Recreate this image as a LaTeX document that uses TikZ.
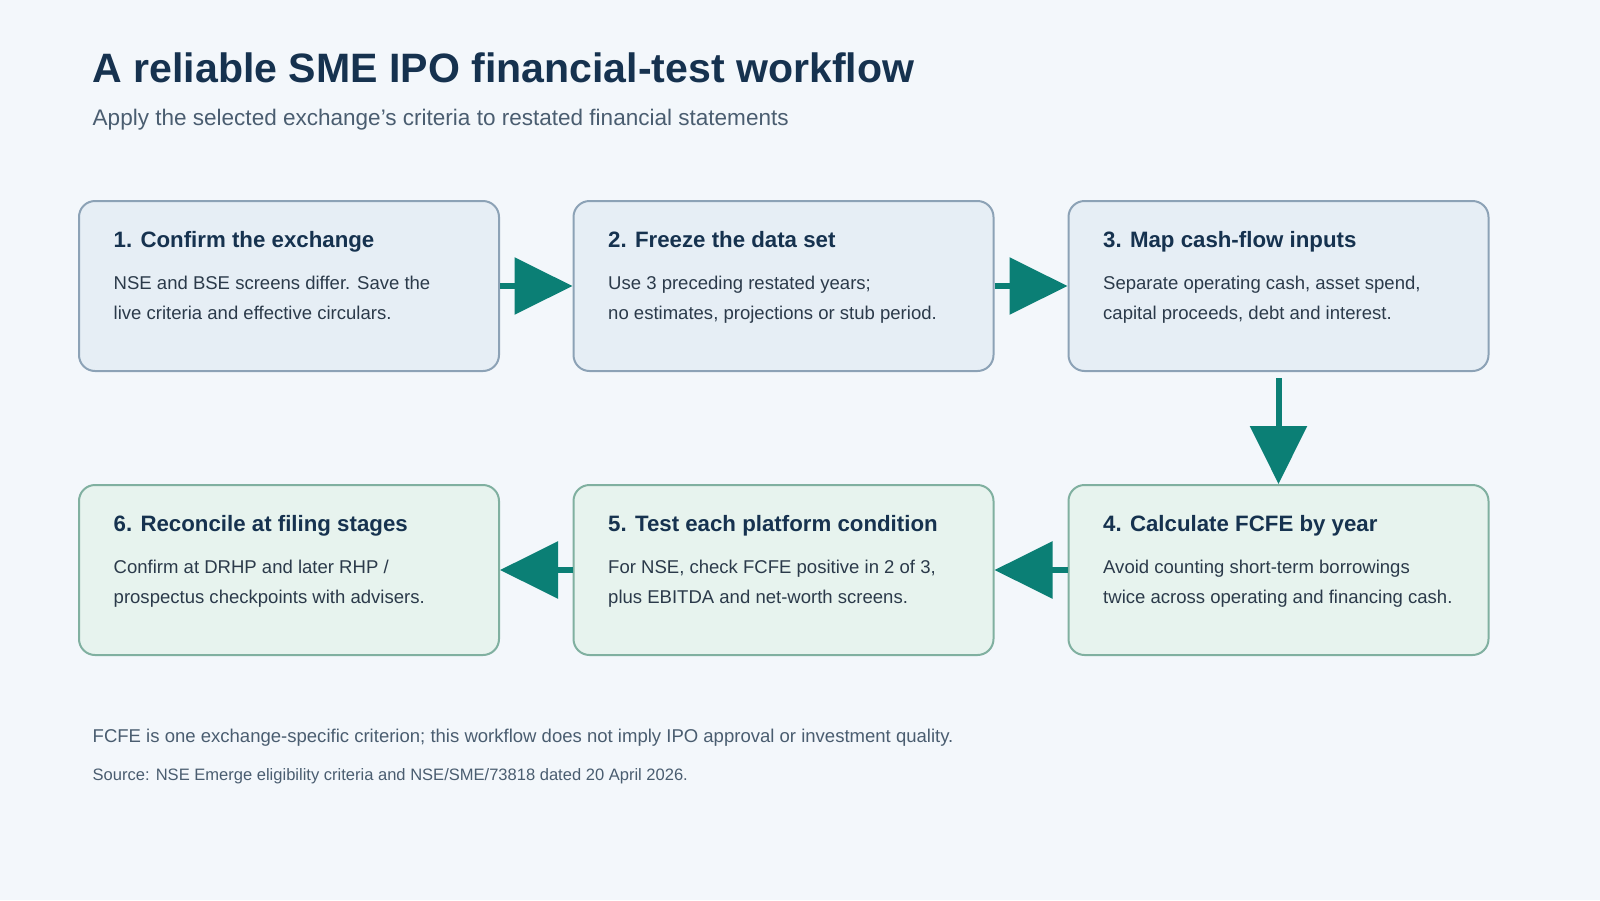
\documentclass[tikz,border=0pt]{standalone}
\usepackage{fontspec}
\setmainfont{Liberation Sans}
\usepackage{xcolor}
\usetikzlibrary{arrows.meta,positioning}
\definecolor{bgc}{HTML}{F3F7FB}
\definecolor{navy}{HTML}{16324F}
\definecolor{subc}{HTML}{4A5D70}
\definecolor{bodyc}{HTML}{2B3A4A}
\definecolor{bluefill}{HTML}{E6EEF5}
\definecolor{bluedraw}{HTML}{8CA2B6}
\definecolor{greenfill}{HTML}{E7F3EE}
\definecolor{greendraw}{HTML}{80B0A0}
\definecolor{teal}{HTML}{0B7F75}
\tikzset{
  stepbox/.style={draw, line width=1.5pt, rounded corners=12pt, minimum width=315pt, minimum height=127.5pt},
  bluestep/.style={stepbox, fill=bluefill, draw=bluedraw},
  greenstep/.style={stepbox, fill=greenfill, draw=greendraw},
  head/.style={anchor=base west, text=navy, font=\fontsize{16.7}{20}\selectfont\bfseries},
  body/.style={anchor=base west, text=bodyc, align=left, font=\fontsize{13.9}{22.5}\selectfont},
  flow/.style={teal, line width=4.5pt, -{Triangle[length=43.5pt,width=42pt]}},
}
\begin{document}
\begin{tikzpicture}[x=0.75pt,y=-0.75pt]
\fill[bgc] (0,0) rectangle (1600,900);
\useasboundingbox (0,0) rectangle (1600,900);

\node[anchor=base west, text=navy, font=\fontsize{30.8}{34}\selectfont\bfseries] (title) at (88,82) {A reliable SME IPO financial-test workflow};
\node[anchor=base west, text=subc, font=\fontsize{16.9}{20}\selectfont] (sub) at (88,125) {Apply the selected exchange{\char"27}s criteria to restated financial statements};

\node[bluestep] (b1) at (289,286) {};
\node[bluestep] (b2) at (783.5,286) {};
\node[bluestep] (b3) at (1278.5,286) {};
\node[greenstep] (b4) at (1278.5,570) {};
\node[greenstep] (b5) at (783.5,570) {};
\node[greenstep] (b6) at (289,570) {};

\foreach \b/\t/\l in {
  b1/{1. Confirm the exchange}/{NSE and BSE screens differ. Save the\\live criteria and effective circulars.},
  b2/{2. Freeze the data set}/{Use 3 preceding restated years;\\no estimates, projections or stub period.},
  b3/{3. Map cash-flow inputs}/{Separate operating cash, asset spend,\\capital proceeds, debt and interest.},
  b4/{4. Calculate FCFE by year}/{Avoid counting short-term borrowings\\twice across operating and financing cash.},
  b5/{5. Test each platform condition}/{For NSE, check FCFE positive in 2 of 3,\\plus EBITDA and net-worth screens.},
  b6/{6. Reconcile at filing stages}/{Confirm at DRHP and later RHP /\\prospectus checkpoints with advisers.}}
{
  \node[head] (\b-h) at ([shift={(31,47)}]\b.north west) {\t};
  \node[body] (\b-t) at ([shift={(31,119)}]\b.north west) {\l};
}

\draw[flow] (b1) -- (b2);
\draw[flow] (b2) -- (b3);
\draw[flow] ([yshift=-4.5pt]b3.south) -- (b4);
\draw[flow] (b4) -- (b5);
\draw[flow] (b5) -- (b6);

\node[anchor=base west, text=subc, font=\fontsize{13.9}{16}\selectfont] (note) at (88,742) {FCFE is one exchange-specific criterion; this workflow does not imply IPO approval or investment quality.};
\node[anchor=base west, text=subc, font=\fontsize{12.4}{14}\selectfont] (src) at (88,780) {Source: NSE Emerge eligibility criteria and NSE/SME/73818 dated 20 April 2026.};
\end{tikzpicture}
\end{document}
